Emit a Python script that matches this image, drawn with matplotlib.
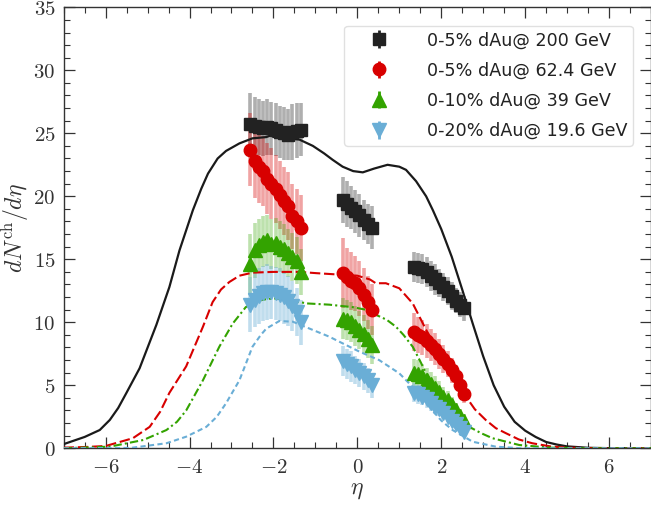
import numpy as np
import matplotlib
matplotlib.use("Agg")
import matplotlib.pyplot as plt
from matplotlib.ticker import MultipleLocator, FuncFormatter

plt.rcParams["mathtext.fontset"] = "cm"
plt.rcParams["font.family"] = ["DejaVu Sans"]

# ---------------- measured dN/deta (three acceptance windows) ----------------
eta_back = [-2.55, -2.45, -2.35, -2.25, -2.15, -2.05, -1.95, -1.85, -1.75, -1.65, -1.55, -1.45, -1.35]
eta_mid = [-0.35, -0.25, -0.15, -0.05, 0.05, 0.15, 0.25, 0.35]
eta_fwd = [1.35, 1.45, 1.55, 1.65, 1.75, 1.85, 1.95, 2.05, 2.15, 2.25, 2.35, 2.45, 2.55]

# 0-5% d+Au 200 GeV
y200 = [25.7, 25.6, 25.5, 25.4, 25.5, 25.4, 25.3, 25.1, 25.0, 24.9, 25.1, 25.2, 25.3,
        19.7, 19.4, 19.1, 18.8, 18.5, 18.1, 17.8, 17.5,
        14.4, 14.3, 14.2, 14.0, 13.7, 13.4, 13.1, 12.8, 12.5, 12.1, 11.7, 11.4, 11.1]
e200 = [2.5, 2.3, 2.2, 2.2, 2.2, 2.1, 2.1, 2.1, 2.1, 2.0, 2.2, 2.2, 2.1,
        1.8, 1.8, 1.7, 1.7, 1.7, 1.6, 1.6, 1.7,
        1.2, 1.2, 1.2, 1.2, 1.2, 1.2, 1.1, 1.1, 1.1, 1.1, 1.0, 1.0, 1.0]

# 0-5% d+Au 62.4 GeV
y62 = [23.7, 22.8, 22.3, 22.0, 21.4, 21.0, 20.6, 20.1, 19.6, 19.2, 18.4, 18.0, 17.5,
       13.9, 13.6, 13.3, 13.1, 12.7, 12.2, 11.6, 11.0,
       9.2, 9.0, 8.8, 8.5, 8.2, 7.9, 7.5, 7.1, 6.7, 6.2, 5.7, 5.0, 4.3]
e62 = [2.9, 2.9, 2.8, 2.8, 2.8, 2.8, 2.7, 2.7, 2.7, 2.7, 2.6, 2.6, 2.6,
       2.8, 2.3, 2.3, 2.2, 2.2, 2.1, 2.1, 2.0,
       1.5, 1.45, 1.4, 1.35, 1.3, 1.25, 1.2, 1.1, 1.05, 1.0, 0.9, 0.8, 0.7]

# 0-10% d+Au 39 GeV
y39 = [14.6, 15.7, 16.1, 16.4, 16.5, 16.2, 16.3, 16.0, 15.8, 15.5, 15.2, 14.9, 14.0,
       10.3, 10.2, 10.0, 9.7, 9.4, 9.1, 8.7, 8.2,
       6.0, 5.9, 5.7, 5.4, 5.1, 4.8, 4.5, 4.1, 3.8, 3.4, 3.0, 2.6, 2.2]
e39 = [2.4, 2.2, 2.1, 2.0, 2.0, 2.0, 2.0, 2.0, 2.0, 1.9, 1.9, 1.9, 1.8,
       1.6, 1.6, 1.6, 1.6, 1.5, 1.5, 1.5, 1.5,
       1.1, 1.1, 1.0, 1.0, 0.95, 0.9, 0.85, 0.8, 0.75, 0.7, 0.6, 0.55, 0.5]

# 0-20% d+Au 19.6 GeV
y19 = [11.4, 11.8, 12.1, 12.3, 12.4, 12.4, 12.3, 12.2, 12.0, 11.7, 11.3, 10.8, 10.0,
       6.9, 6.7, 6.5, 6.2, 6.0, 5.7, 5.4, 5.0,
       4.4, 4.3, 4.1, 3.9, 3.6, 3.3, 3.1, 2.8, 2.5, 2.2, 1.9, 1.6, 1.3]
e19 = [2.2, 2.2, 2.2, 2.2, 2.2, 2.1, 2.1, 2.1, 2.1, 2.0, 2.0, 1.9, 1.8,
       1.2, 1.2, 1.2, 1.1, 1.1, 1.1, 1.0, 1.0,
       0.75, 0.75, 0.7, 0.7, 0.65, 0.6, 0.55, 0.5, 0.45, 0.4, 0.35, 0.3, 0.3]

# ---------------- model curves ----------------
curve200_eta = [-7.0, -6.5, -6.14, -5.9, -5.7, -5.51, -5.19, -4.79, -4.48, -4.24, -3.92, -3.72,
                -3.56, -3.33, -3.13, -2.81, -2.5, -2.17, -2.05, -2.0, -1.95, -1.7, -1.38,
                -1.06, -0.79, -0.59, -0.35, -0.1, 0.13, 0.4, 0.72, 1.0, 1.16, 1.4, 1.64,
                1.8, 2.0, 2.25, 2.5, 2.75, 3.0, 3.25, 3.5, 3.75, 4.0, 4.25, 4.5, 4.75,
                5.0, 5.5, 6.0, 7.0]
curve200_val = [0.33, 0.9, 1.45, 2.25, 3.2, 4.36, 6.35, 9.8, 12.8, 15.7, 18.9, 20.6,
                21.8, 23.0, 23.6, 24.2, 24.6, 24.7, 24.85, 24.7, 24.9, 24.6, 24.5,
                24.0, 23.4, 22.9, 22.35, 22.0, 21.9, 22.2, 22.5, 22.35, 22.1, 21.2, 20.0,
                18.9, 17.4, 15.2, 12.6, 9.9, 7.3, 5.0, 3.3, 2.1, 1.4, 0.9, 0.5, 0.3,
                0.15, 0.04, 0.01, 0.0]

curve62_eta = [-7.0, -6.5, -6.0, -5.35, -4.95, -4.7, -4.48, -4.08, -3.68, -3.45, -3.25, -3.05,
               -2.81, -2.5, -2.0, -1.38, -0.98, -0.5, 0.0, 0.3, 0.44, 0.68, 1.0, 1.32, 1.64,
               1.9, 2.11, 2.35, 2.59, 2.8, 3.06, 3.3, 3.54, 3.85, 4.17, 4.6, 5.0, 5.5, 7.0]
curve62_val = [0.05, 0.1, 0.18, 0.8, 1.7, 2.9, 4.4, 6.5, 9.65, 11.6, 12.6, 13.2,
               13.7, 13.94, 14.0, 14.0, 13.9, 13.8, 13.7, 13.4, 13.1, 13.1, 12.7, 11.5, 9.4,
               7.9, 6.75, 5.3, 4.1, 3.1, 2.25, 1.6, 1.2, 0.7, 0.4, 0.15, 0.05, 0.01, 0.0]

curve39_eta = [-7.0, -5.9, -5.1, -4.55, -4.3, -4.08, -3.68, -3.29, -2.97, -2.66, -2.45, -2.25,
               -2.0, -1.62, -1.22, -0.67, -0.11, 0.2, 0.44, 0.7, 0.92, 1.1, 1.32, 1.5, 1.64,
               1.9, 2.11, 2.4, 2.67, 2.95, 3.22, 3.86, 4.6, 5.5, 7.0]
curve39_val = [0.0, 0.13, 0.66, 1.45, 2.1, 3.0, 5.4, 8.06, 9.9, 11.2, 11.6, 11.8,
               11.9, 11.8, 11.5, 11.4, 11.2, 11.0, 10.6, 10.2, 9.65, 9.0, 8.06, 6.9, 5.95,
               4.7, 3.8, 2.6, 1.7, 1.2, 0.8, 0.26, 0.05, 0.0, 0.0]

curve19_eta = [-7.0, -5.4, -4.55, -4.08, -3.6, -3.35, -3.13, -2.81, -2.5, -2.3, -2.17, -1.86,
               -1.54, -1.14, -0.67, -0.43, 0.05, 0.52, 1.0, 1.4, 1.79, 2.0, 2.27, 2.75, 3.3,
               3.9, 7.0]
curve19_val = [0.0, 0.03, 0.4, 0.92, 1.7, 2.5, 3.57, 5.4, 8.06, 9.0, 9.5, 10.1,
               10.05, 9.5, 8.86, 8.46, 7.67, 7.0, 5.95, 4.6, 3.0, 2.2, 1.45, 0.52, 0.13,
               0.0, 0.0]

labels = ["0-5% dAu@ 200 GeV", "0-5% dAu@ 62.4 GeV", "0-10% dAu@ 39 GeV", "0-20% dAu@ 19.6 GeV"]

# ---------------- drawing ----------------
fig = plt.figure(figsize=(6.51, 5.07), dpi=100)
ax = fig.add_axes([0.0978, 0.1158, 0.9022, 0.8698])

eta_all = np.array(eta_back + eta_mid + eta_fwd)

colors = ["#222222", "#d80000", "#33a300", "#6aaed6"]
ealphas = [0.36, 0.36, 0.32, 0.42]
markers = ["s", "o", "^", "v"]
msizes = [9, 9, 9.5, 9.5]
series = [(y200, e200), (y62, e62), (y39, e39), (y19, e19)]

for (yv, ev), c, ea in zip(series, colors, ealphas):
    ax.errorbar(eta_all, yv, yerr=ev, fmt="none", ecolor=c, elinewidth=2.6,
                alpha=ea, capsize=0, zorder=2)

ax.plot(curve200_eta, curve200_val, color="#1a1a1a", lw=1.6, zorder=3)
ax.plot(curve62_eta, curve62_val, color="#d80000", lw=1.5, dashes=(5, 1.8), zorder=3)
ax.plot(curve39_eta, curve39_val, color="#33a300", lw=1.5, dashes=(4, 1.5, 1, 1.5), zorder=3)
ax.plot(curve19_eta, curve19_val, color="#6aaed6", lw=1.5, dashes=(2.5, 1.6), zorder=3)

handles = []
for (yv, ev), c, m, ms, lab in zip(series, colors, markers, msizes, labels):
    ax.plot(eta_all, yv, ls="none", marker=m, ms=ms, color=c, mec=c, zorder=4)
    h = ax.errorbar([np.nan], [np.nan], yerr=[1.0], fmt=m, ms=ms, color=c,
                    ecolor=c, elinewidth=2.0, capsize=0, label=lab)
    handles.append(h)

ax.set_xlim(-7, 7)
ax.set_ylim(0, 35)
ax.xaxis.set_major_locator(MultipleLocator(2))
ax.xaxis.set_minor_locator(MultipleLocator(0.5))
ax.yaxis.set_major_locator(MultipleLocator(5))
ax.yaxis.set_minor_locator(MultipleLocator(1))
fmt = FuncFormatter(lambda v, _: r"$%g$" % v)
ax.xaxis.set_major_formatter(fmt)
ax.yaxis.set_major_formatter(fmt)
ax.tick_params(which="both", direction="in", top=True, right=True, color="#333333")
ax.tick_params(which="major", length=8, width=0.9, labelsize=15, pad=6, labelcolor="#333333")
ax.tick_params(which="minor", length=4, width=0.8)
for sp in ax.spines.values():
    sp.set_linewidth(1.0)
    sp.set_color("#333333")

ax.set_xlabel(r"$\eta$", fontsize=17, color="#333333", labelpad=0)
ax.set_ylabel(r"$dN^{\rm ch}/d\eta$", fontsize=17, color="#333333", labelpad=2)

leg = ax.legend(handles=handles, loc="upper right", fontsize=12.6, frameon=True,
                fancybox=True, framealpha=0.9, edgecolor="#dddddd",
                handlelength=3.35, handletextpad=1.05, labelspacing=0.7,
                borderpad=0.32, bbox_to_anchor=(0.984, 0.978))
for t in leg.get_texts():
    t.set_color("#222222")

fig.savefig("out.png", dpi=100)
